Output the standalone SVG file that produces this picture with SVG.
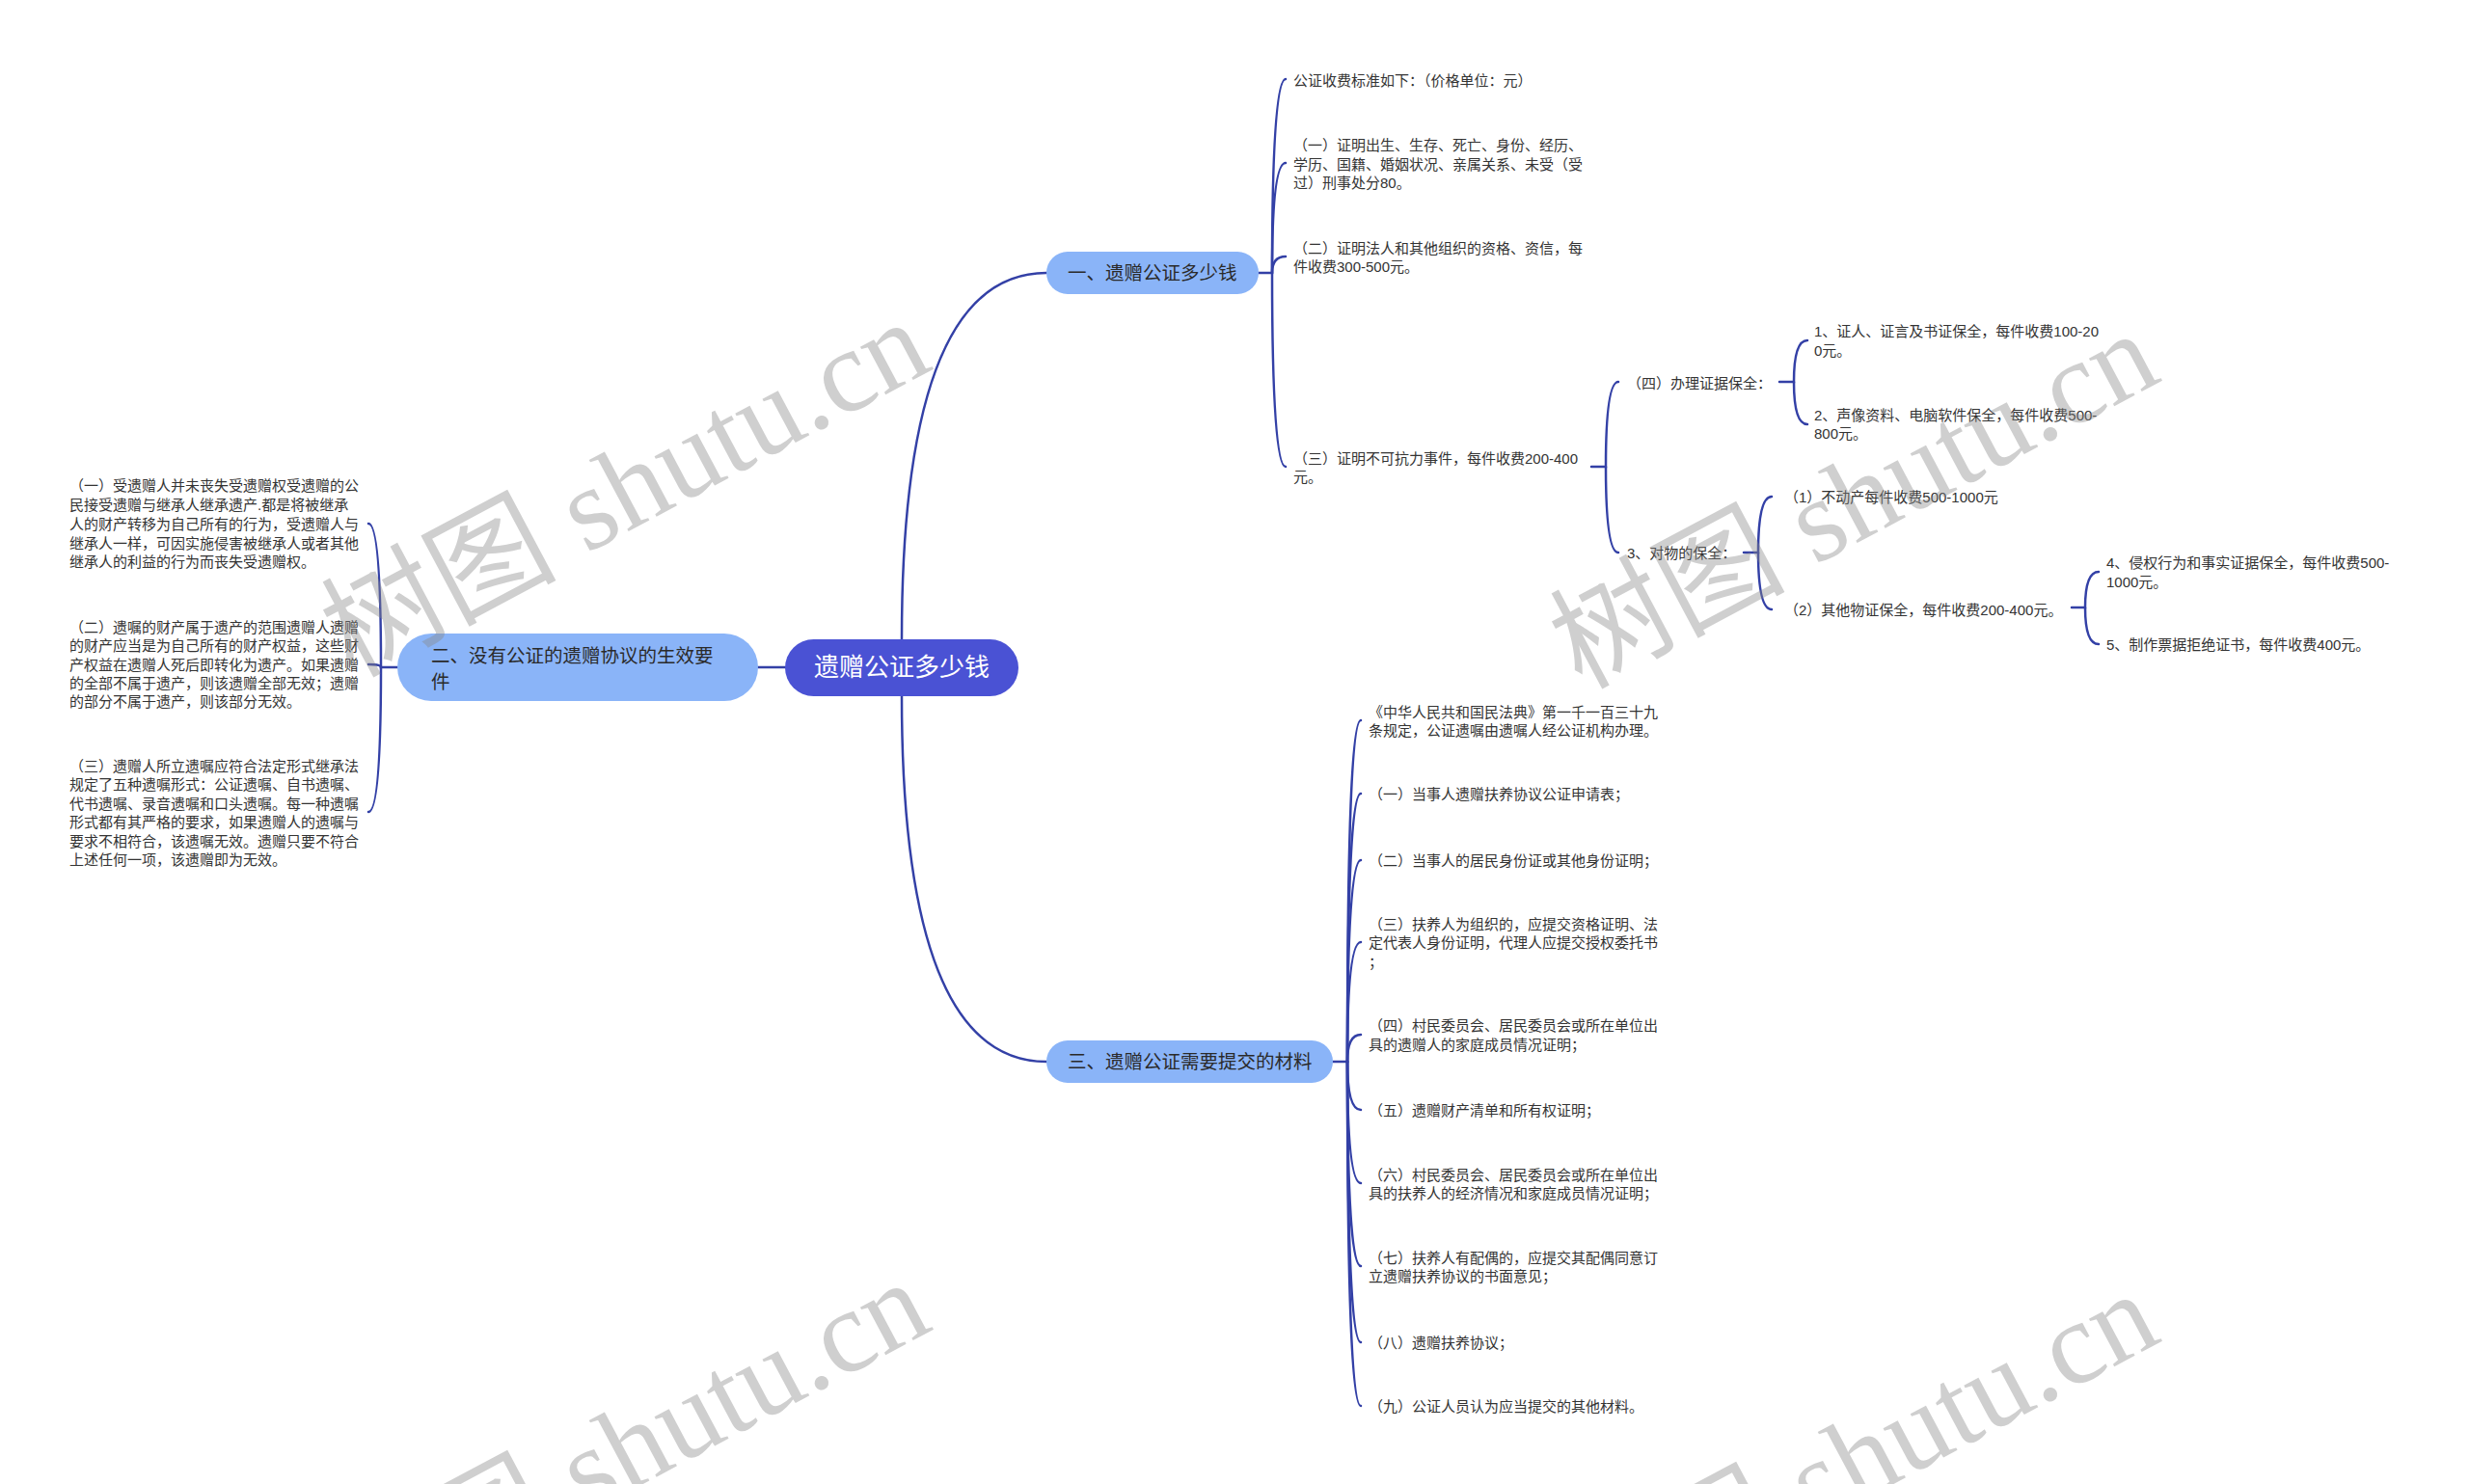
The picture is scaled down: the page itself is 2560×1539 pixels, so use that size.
<svg xmlns="http://www.w3.org/2000/svg" width="2560" height="1539" viewBox="0 0 2560 1539">
<style>
.conn{fill:none;stroke:#3340A6;stroke-width:2.5;stroke-linecap:round}
.leaf{font-family:"Liberation Sans","Noto Sans CJK SC",sans-serif;font-size:15px;fill:#333;dominant-baseline:central}
.br{font-family:"Liberation Sans","Noto Sans CJK SC",sans-serif;font-size:19.5px;fill:#2a2a2a;dominant-baseline:central}
.brbox{fill:#8AB4F8}
.root{fill:#4A52D4}
.roott{font-family:"Liberation Sans","Noto Sans CJK SC",sans-serif;font-size:26px;fill:#fff;dominant-baseline:central;text-anchor:middle}
.wm{font-family:"Liberation Serif","Noto Sans CJK SC",serif;font-size:122px;fill:#888;opacity:0.4;text-anchor:middle;dominant-baseline:central}
</style>
<rect width="2560" height="1539" fill="#fff"/>
<g id="connectors">
<path class="conn" d="M935,663 Q935,283 1085,283"/>
<path class="conn" d="M935,722 Q935,1101 1085,1101"/>
<path class="conn" d="M786,692 H814"/>
<!-- branch 1 -->
<path class="conn" d="M1305,283 H1319 Q1319,82 1333,82"/>
<path class="conn" d="M1319,283 Q1319,169 1333,169"/>
<path class="conn" d="M1319,283 Q1319,266 1333,266"/>
<path class="conn" d="M1319,283 Q1319,484 1333,484"/>
<!-- (三) subtree -->
<path class="conn" d="M1650,484 H1665 Q1665,396 1678,396"/>
<path class="conn" d="M1665,484 Q1665,573 1678,573"/>
<path class="conn" d="M1845,396 H1860 Q1860,353 1874,353"/>
<path class="conn" d="M1860,396 Q1860,440 1874,440"/>
<path class="conn" d="M1808,573 H1823 Q1823,515 1837,515"/>
<path class="conn" d="M1823,573 Q1823,632 1837,632"/>
<path class="conn" d="M2148,630 H2162 Q2162,593 2176,593"/>
<path class="conn" d="M2162,630 Q2162,668 2176,668"/>
<!-- branch 2 -->
<path class="conn" d="M412,692 H395 Q395,543 382,543"/>
<path class="conn" d="M395,692 Q395,689 382,689"/>
<path class="conn" d="M395,692 Q395,842 382,842"/>
<!-- branch 3 -->
<path class="conn" d="M1382,1101 H1397 Q1397,747 1411,747"/>
<path class="conn" d="M1397,1101 Q1397,823 1411,823"/>
<path class="conn" d="M1397,1101 Q1397,892 1411,892"/>
<path class="conn" d="M1397,1101 Q1397,977 1411,977"/>
<path class="conn" d="M1397,1101 Q1397,1073 1411,1073"/>
<path class="conn" d="M1397,1101 Q1397,1151 1411,1151"/>
<path class="conn" d="M1397,1101 Q1397,1227 1411,1227"/>
<path class="conn" d="M1397,1101 Q1397,1313 1411,1313"/>
<path class="conn" d="M1397,1101 Q1397,1392 1411,1392"/>
<path class="conn" d="M1397,1101 Q1397,1458 1411,1458"/>
</g>
<g id="root">
<rect class="root" x="814" y="663" width="242" height="59" rx="29.5"/>
<text class="roott" x="935" y="692">遗赠公证多少钱</text>
</g>
<g id="branch1">
<rect class="brbox" x="1085" y="261" width="220" height="44" rx="22"/>
<text class="br" x="1107" y="283">一、遗赠公证多少钱</text>
</g>
<g id="branch2">
<rect class="brbox" x="412" y="657" width="374" height="70" rx="35"/>
<text class="br" x="447" y="680">二、没有公证的遗赠协议的生效要</text>
<text class="br" x="447" y="707">件</text>
</g>
<g id="branch3">
<rect class="brbox" x="1085" y="1079" width="297" height="44" rx="22"/>
<text class="br" x="1107" y="1101">三、遗赠公证需要提交的材料</text>
</g>
<g id="b1-fee">
<text class="leaf" x="1341" y="83">公证收费标准如下：（价格单位：元）</text>
</g>
<g id="b1-1">
<text class="leaf" x="1341" y="150">（一）证明出生、生存、死亡、身份、经历、</text>
<text class="leaf" x="1341" y="170">学历、国籍、婚姻状况、亲属关系、未受（受</text>
<text class="leaf" x="1341" y="189">过）刑事处分80。</text>
</g>
<g id="b1-2">
<text class="leaf" x="1341" y="257">（二）证明法人和其他组织的资格、资信，每</text>
<text class="leaf" x="1341" y="276">件收费300-500元。</text>
</g>
<g id="b1-3">
<text class="leaf" x="1341" y="475">（三）证明不可抗力事件，每件收费200-400</text>
<text class="leaf" x="1341" y="494">元。</text>
</g>
<g id="b1-3-4">
<text class="leaf" x="1687" y="397">（四）办理证据保全：</text>
</g>
<g id="b1-3-4-1">
<text class="leaf" x="1881" y="343">1、证人、证言及书证保全，每件收费100-20</text>
<text class="leaf" x="1881" y="363">0元。</text>
</g>
<g id="b1-3-4-2">
<text class="leaf" x="1881" y="430">2、声像资料、电脑软件保全，每件收费500-</text>
<text class="leaf" x="1881" y="449">800元。</text>
</g>
<g id="b1-3-3">
<text class="leaf" x="1687" y="573">3、对物的保全：</text>
</g>
<g id="b1-3-3-1">
<text class="leaf" x="1850" y="515">（1）不动产每件收费500-1000元</text>
</g>
<g id="b1-3-3-2">
<text class="leaf" x="1850" y="632">（2）其他物证保全，每件收费200-400元。</text>
</g>
<g id="b1-3-3-2-4">
<text class="leaf" x="2184" y="583">4、侵权行为和事实证据保全，每件收费500-</text>
<text class="leaf" x="2184" y="603">1000元。</text>
</g>
<g id="b1-3-3-2-5">
<text class="leaf" x="2184" y="668">5、制作票据拒绝证书，每件收费400元。</text>
</g>
<g id="b2-1">
<text class="leaf" x="72" y="503">（一）受遗赠人并未丧失受遗赠权受遗赠的公</text>
<text class="leaf" x="72" y="523">民接受遗赠与继承人继承遗产.都是将被继承</text>
<text class="leaf" x="72" y="543">人的财产转移为自己所有的行为，受遗赠人与</text>
<text class="leaf" x="72" y="563">继承人一样，可因实施侵害被继承人或者其他</text>
<text class="leaf" x="72" y="582">继承人的利益的行为而丧失受遗赠权。</text>
</g>
<g id="b2-2">
<text class="leaf" x="72" y="650">（二）遗嘱的财产属于遗产的范围遗赠人遗赠</text>
<text class="leaf" x="72" y="669">的财产应当是为自己所有的财产权益，这些财</text>
<text class="leaf" x="72" y="689">产权益在遗赠人死后即转化为遗产。如果遗赠</text>
<text class="leaf" x="72" y="708">的全部不属于遗产，则该遗赠全部无效；遗赠</text>
<text class="leaf" x="72" y="727">的部分不属于遗产，则该部分无效。</text>
</g>
<g id="b2-3">
<text class="leaf" x="72" y="794">（三）遗赠人所立遗嘱应符合法定形式继承法</text>
<text class="leaf" x="72" y="813">规定了五种遗嘱形式：公证遗嘱、自书遗嘱、</text>
<text class="leaf" x="72" y="833">代书遗嘱、录音遗嘱和口头遗嘱。每一种遗嘱</text>
<text class="leaf" x="72" y="852">形式都有其严格的要求，如果遗赠人的遗嘱与</text>
<text class="leaf" x="72" y="872">要求不相符合，该遗嘱无效。遗赠只要不符合</text>
<text class="leaf" x="72" y="891">上述任何一项，该遗赠即为无效。</text>
</g>
<g id="b3-0">
<text class="leaf" x="1419" y="738">《中华人民共和国民法典》第一千一百三十九</text>
<text class="leaf" x="1419" y="757">条规定，公证遗嘱由遗嘱人经公证机构办理。</text>
</g>
<g id="b3-1"><text class="leaf" x="1419" y="823">（一）当事人遗赠扶养协议公证申请表；</text></g>
<g id="b3-2"><text class="leaf" x="1419" y="892">（二）当事人的居民身份证或其他身份证明；</text></g>
<g id="b3-3">
<text class="leaf" x="1419" y="958">（三）扶养人为组织的，应提交资格证明、法</text>
<text class="leaf" x="1419" y="977">定代表人身份证明，代理人应提交授权委托书</text>
<text class="leaf" x="1419" y="997">；</text>
</g>
<g id="b3-4">
<text class="leaf" x="1419" y="1063">（四）村民委员会、居民委员会或所在单位出</text>
<text class="leaf" x="1419" y="1083">具的遗赠人的家庭成员情况证明；</text>
</g>
<g id="b3-5"><text class="leaf" x="1419" y="1151">（五）遗赠财产清单和所有权证明；</text></g>
<g id="b3-6">
<text class="leaf" x="1419" y="1218">（六）村民委员会、居民委员会或所在单位出</text>
<text class="leaf" x="1419" y="1237">具的扶养人的经济情况和家庭成员情况证明；</text>
</g>
<g id="b3-7">
<text class="leaf" x="1419" y="1304">（七）扶养人有配偶的，应提交其配偶同意订</text>
<text class="leaf" x="1419" y="1323">立遗赠扶养协议的书面意见；</text>
</g>
<g id="b3-8"><text class="leaf" x="1419" y="1392">（八）遗赠扶养协议；</text></g>
<g id="b3-9"><text class="leaf" x="1419" y="1458">（九）公证人员认为应当提交的其他材料。</text></g>
<g id="watermark">
<text class="wm" x="648" y="506" transform="rotate(-28 648 506)">树图 shutu.cn</text>
<text class="wm" x="1922" y="518" transform="rotate(-28 1922 518)">树图 shutu.cn</text>
<text class="wm" x="648" y="1502" transform="rotate(-28 648 1502)">树图 shutu.cn</text>
<text class="wm" x="1922" y="1514" transform="rotate(-28 1922 1514)">树图 shutu.cn</text>
</g>
</svg>
